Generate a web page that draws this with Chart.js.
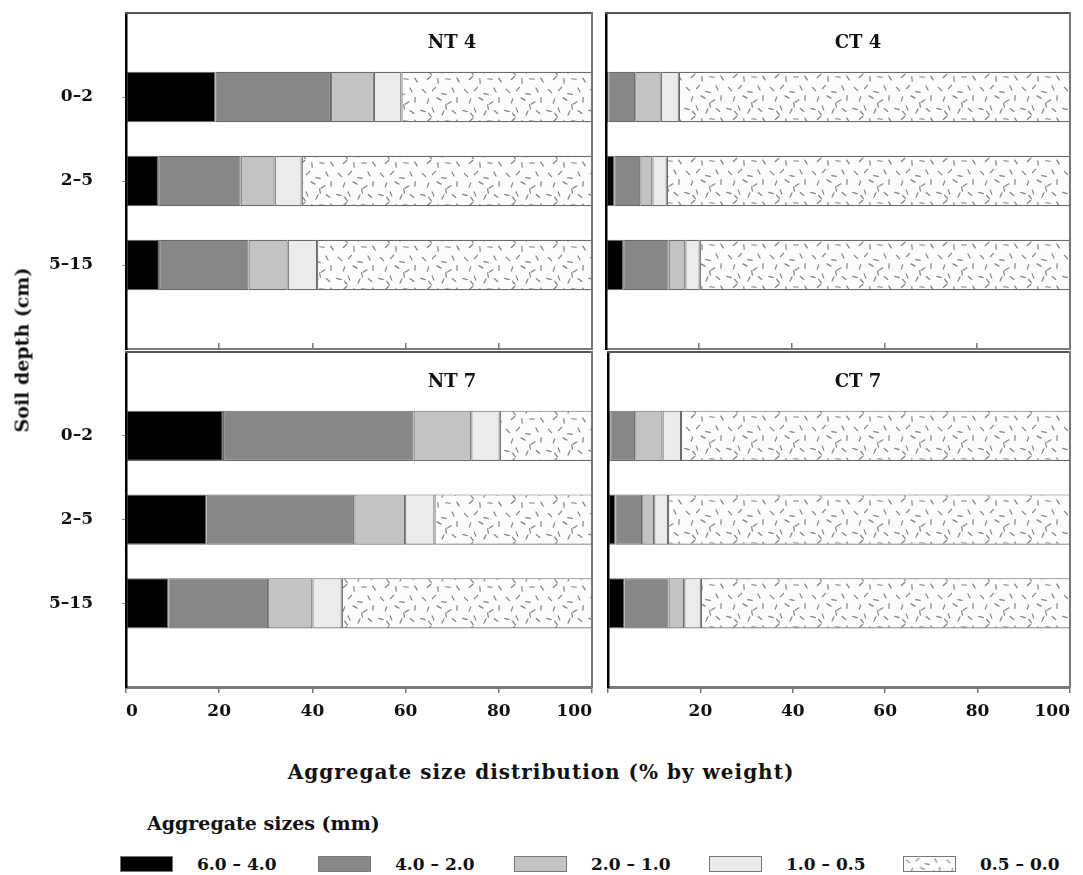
<!DOCTYPE html>
<html>
<head>
  <title>Aggregate size distribution</title>
  <script src="https://cdn.jsdelivr.net/npm/chart.js"></script>
  <style>
    body {
      margin: 0;
      background: #fff;
      width: 1083px;
      height: 875px;
      position: relative;
      overflow: hidden;
      font-family: "DejaVu Serif", serif;
      font-weight: bold;
      color: #111;
    }
    canvas { position: absolute; }
    .label {
      position: absolute;
      white-space: nowrap;
      line-height: 1;
    }
    .legend-item {
      position: absolute;
      display: flex;
      align-items: center;
      font-size: 17px;
    }
    .swatch {
      width: 53px;
      height: 16px;
      border: 1px solid #777;
      box-sizing: border-box;
      margin-right: 24px;
    }
  </style>
</head>
<body>
  <canvas id="nt4" width="620" height="440" style="left:0;top:-40px"></canvas>
  <canvas id="ct4" width="483" height="360" style="left:600px;top:0"></canvas>
  <canvas id="nt7" width="620" height="460" style="left:0;top:300px"></canvas>
  <canvas id="ct7" width="483" height="420" style="left:600px;top:340px"></canvas>

  <div class="label" style="left:452px;top:42px;transform:translate(-50%,-50%);font-size:18px">NT 4</div>
  <div class="label" style="left:858px;top:42px;transform:translate(-50%,-50%);font-size:18px">CT 4</div>
  <div class="label" style="left:452px;top:381px;transform:translate(-50%,-50%);font-size:18px">NT 7</div>
  <div class="label" style="left:858px;top:381px;transform:translate(-50%,-50%);font-size:18px">CT 7</div>

  <div class="label" style="left:22px;top:350px;transform:translate(-50%,-50%) rotate(-90deg);font-size:19px">Soil depth (cm)</div>
  <div class="label" style="left:541px;top:772px;transform:translate(-50%,-50%);font-size:20px;letter-spacing:1px">Aggregate size distribution (% by weight)</div>
  <div class="label" style="left:147px;top:823px;transform:translateY(-50%);font-size:19px">Aggregate sizes (mm)</div>
  <div id="legend"></div>

  <script>
    const depths = ["", "0–2", "2–5", "5–15", ""];
    const sizes = ["6.0 – 4.0", "4.0 – 2.0", "2.0 – 1.0", "1.0 – 0.5", "0.5 – 0.0"];
    const xTicks = [0, 20, 40, 60, 80, 100];

    // % by weight, one row per size class, columns = depths 0–2, 2–5, 5–15
    const nt4 = [[19.2, 6.9, 7.1], [24.8, 17.7, 19.2], [9.2, 7.3, 8.4], [5.9, 5.8, 6.3], [40.9, 62.3, 59.0]];
    const ct4 = [[0.5, 1.8, 3.7], [5.8, 5.6, 9.8], [5.5, 2.6, 3.6], [3.9, 3.1, 3.1], [84.3, 86.9, 79.8]];
    const nt7 = [[20.8, 17.3, 9.1], [40.9, 31.7, 21.4], [12.4, 10.9, 9.5], [6.1, 6.3, 6.3], [19.8, 33.8, 53.7]];
    const ct7 = [[0.5, 1.6, 3.6], [5.4, 5.8, 9.5], [5.9, 2.6, 3.4], [4.0, 3.0, 3.6], [84.2, 87.0, 79.9]];

    const fontFamily = '"DejaVu Serif", serif';

    // speckle texture for the finest class
    const dashes = [[4, 5, 0.8], [14, 3, 2.3], [24, 8, 0.2], [33, 4, 1.1], [8, 15, 1.9], [19, 13, 0.5],
                    [29, 17, 2.6], [37, 14, 1.6], [3, 25, 0.3], [13, 24, 1.2], [23, 27, 2.0], [34, 26, 0.7],
                    [9, 34, 2.4], [18, 37, 1.5], [28, 35, 0.1], [38, 36, 1.0], [26, 21, 1.4], [10, 29, 0.9]];

    function makePattern() {
      const c = document.createElement("canvas");
      c.width = 42;
      c.height = 42;
      const g = c.getContext("2d");
      g.fillStyle = "#fcfcfc";
      g.fillRect(0, 0, 42, 42);
      g.strokeStyle = "#808080";
      g.lineWidth = 1.2;
      g.lineCap = "round";
      dashes.forEach(([x, y, a]) => {
        const dx = Math.cos(a) * 2.3, dy = Math.sin(a) * 2.3;
        g.beginPath();
        g.moveTo(x - dx, y - dy);
        g.lineTo(x + dx, y + dy);
        g.stroke();
      });
      return g.createPattern(c, "repeat");
    }

    const speckle = makePattern();
    const fills = ["#000000", "#878787", "#c3c3c3", "#ebebeb", speckle];

    function panel(id, rows, o) {
      new Chart(document.getElementById(id), {
        type: "bar",
        data: {
          labels: depths,
          datasets: sizes.map((s, i) => ({
            label: s,
            data: [null, ...rows[i], null],
            backgroundColor: fills[i],
            borderColor: "#6a6a6a",
            borderWidth: 1.2,
            borderSkipped: false,
            categoryPercentage: 1,
            barPercentage: 0.6,
            xAxisID: "x",
            yAxisID: "y"
          }))
        },
        options: {
          indexAxis: "y",
          responsive: false,
          animation: false,
          layout: { padding: o.pad },
          plugins: { legend: { display: false }, tooltip: { enabled: false } },
          scales: {
            x: {
              type: "linear",
              stacked: true,
              min: 0,
              max: 100,
              position: "bottom",
              afterBuildTicks: s => { s.ticks = xTicks.map(v => ({ value: v })); },
              ticks: {
                display: o.xLabels,
                align: "inner",
                padding: 8,
                color: "#111",
                font: { family: fontFamily, size: 17, weight: "bold" },
                callback: v => (o.skipZero && v === 0) ? "" : v
              },
              grid: { drawOnChartArea: false, tickLength: o.xLabels ? 6 : -6, color: "#777", lineWidth: 1.5 },
              border: { color: "#7a7a7a", width: o.xLabels ? 3 : 2, z: 1 },
              afterFit: s => { s.height = o.xh; }
            },
            y: {
              type: "category",
              stacked: true,
              offset: false,
              ticks: {
                display: o.yLabels,
                padding: 29,
                color: "#111",
                font: { family: fontFamily, size: 17, weight: "bold" }
              },
              grid: {
                offset: false,
                drawOnChartArea: false,
                tickLength: o.yLabels ? 4 : 0,
                color: c => (c.tick && c.tick.label) ? "#888" : "rgba(0,0,0,0)"
              },
              border: { color: "#000", width: 2.5, z: 1 },
              afterFit: s => { s.width = o.yw; }
            },
            top: {
              type: "linear",
              position: "top",
              display: true,
              min: 0,
              max: 100,
              ticks: { display: false },
              grid: { display: false },
              border: { color: "#555", width: 2, z: 1 },
              afterFit: s => { s.height = 0; }
            },
            right: {
              type: "linear",
              position: "right",
              display: true,
              min: 0,
              max: 1,
              ticks: { display: false },
              grid: { display: false },
              border: { color: "#777", width: 2, z: 1 },
              afterFit: s => { s.width = 0; }
            }
          }
        }
      });
    }

    // canvases are padded so that every plot box lands on the same page rectangle as the reference
    panel("nt4", nt4, { pad: { left: 0, right: 28, top: 53, bottom: 0 }, yw: 126, xh: 51, xLabels: false, yLabels: true });
    panel("ct4", ct4, { pad: { left: 0, right: 13, top: 13, bottom: 0 }, yw: 6, xh: 11, xLabels: false, yLabels: false });
    panel("nt7", nt7, { pad: { left: 0, right: 28, top: 52, bottom: 0 }, yw: 126, xh: 73, xLabels: true, yLabels: true });
    panel("ct7", ct7, { pad: { left: 0, right: 13, top: 12, bottom: 0 }, yw: 6, xh: 73, xLabels: true, yLabels: false, skipZero: true });

    // legend
    const legendLeft = [120, 318, 514, 709, 903];
    const legend = document.getElementById("legend");
    sizes.forEach((s, i) => {
      const item = document.createElement("div");
      item.className = "legend-item";
      item.style.left = legendLeft[i] + "px";
      item.style.top = "864px";
      item.style.transform = "translateY(-50%)";
      const sw = document.createElement("canvas");
      sw.className = "swatch";
      sw.width = 53;
      sw.height = 16;
      sw.style.position = "static";
      const g = sw.getContext("2d");
      g.fillStyle = fills[i];
      g.fillRect(0, 0, 53, 16);
      const txt = document.createElement("span");
      txt.textContent = s;
      item.appendChild(sw);
      item.appendChild(txt);
      legend.appendChild(item);
    });
  </script>
</body>
</html>
